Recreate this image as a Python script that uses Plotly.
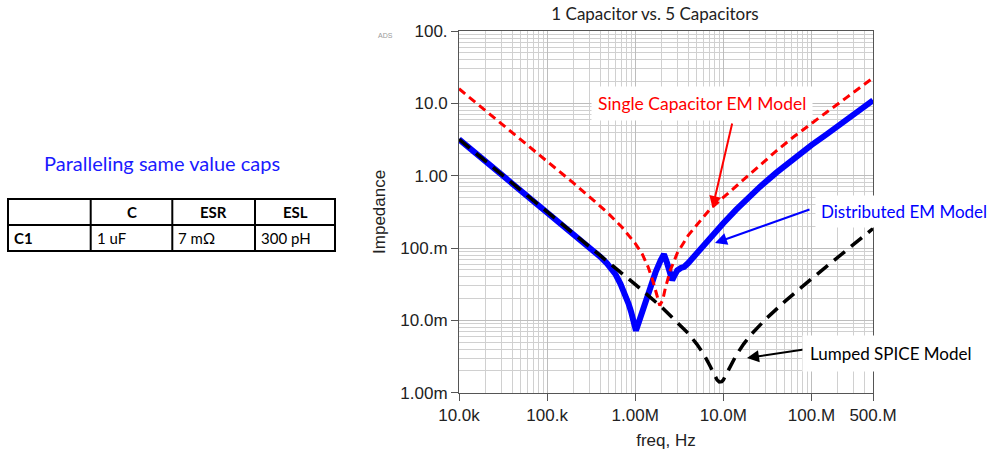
import math
import plotly.graph_objects as go

W, H = 992, 450

# ---------------- data ----------------
freq_single = [1e4, 2e4, 5e4, 1e5, 2e5, 3.5e5, 5e5, 7e5, 1e6, 1.2e6, 1.4e6, 1.6e6, 1.75e6,
               1.9e6, 2.05e6, 2.2e6, 2.5e6, 3e6, 4e6, 5e6, 7e6, 1e7, 1.5e7, 2.5e7, 4e7,
               6.3e7, 1e8, 1.5e8, 2.5e8, 3.5e8, 5e8]
z_single = [15.9, 7.95, 3.18, 1.59, 0.787, 0.439, 0.297, 0.197, 0.116, 0.083, 0.055, 0.034,
            0.022, 0.016, 0.019, 0.028, 0.049, 0.085, 0.15, 0.21, 0.34, 0.50, 0.77, 1.33, 2.2,
            3.45, 5.3, 7.6, 12.0, 16.4, 22.5]

freq_distributed = [1e4, 2e4, 5e4, 1e5, 2e5, 3e5, 3.5e5, 4e5, 4.8e5, 5.5e5, 6e5, 6.8e5, 7.5e5,
                    8.4e5, 9e5, 9.5e5, 9.8e5, 1.02e6, 1.1e6, 1.25e6, 1.45e6, 1.7e6, 1.95e6,
                    2.12e6, 2.3e6, 2.5e6, 2.63e6, 2.8e6, 3e6, 3.3e6, 3.6e6, 4e6, 4.6e6, 5.5e6,
                    6.5e6, 7.7e6, 1e7, 1.4e7, 2e7, 2.6e7, 4e7, 6.3e7, 1e8, 1.5e8, 2.5e8,
                    3.5e8, 5e8]
z_distributed = [3.18, 1.59, 0.636, 0.318, 0.158, 0.103, 0.088, 0.076, 0.061, 0.050, 0.043,
                 0.032, 0.025, 0.017, 0.013, 0.010, 0.0085, 0.0072, 0.0095, 0.0155, 0.026,
                 0.046, 0.068, 0.082, 0.062, 0.043, 0.036, 0.042, 0.049, 0.053, 0.055, 0.062,
                 0.076, 0.097, 0.122, 0.156, 0.22, 0.34, 0.52, 0.70, 1.10, 1.73, 2.65, 3.75,
                 5.9, 8.0, 11.0]

freq_lumped = [1e4, 2e4, 5e4, 1e5, 2e5, 5e5, 1e6, 2e6, 3e6, 4e6, 5e6, 6e6, 7e6, 8e6, 8.5e6,
               9e6, 9.3e6, 9.6e6, 1e7, 1.1e7, 1.2e7, 1.4e7, 1.7e7, 2e7, 3e7, 5e7, 1e8, 2e8, 5e8]
z_lumped = [3.18, 1.59, 0.637, 0.318, 0.159, 0.0635, 0.0315, 0.0152, 0.0095, 0.0066, 0.0047,
            0.0034, 0.0024, 0.0017, 0.0015, 0.00141, 0.0014, 0.00142, 0.0015, 0.0019, 0.0023,
            0.0033, 0.0047, 0.0061, 0.0103, 0.0183, 0.0374, 0.0752, 0.186]

x_tickvals = [1e4, 1e5, 1e6, 1e7, 1e8, 5e8]
x_ticktext = ["10.0k", "100.k", "1.00M", "10.0M", "100.M", "500.M"]
y_tickvals = [1e-3, 1e-2, 1e-1, 1, 10, 100]
y_ticktext = ["1.00m", "10.0m", "100.m", "1.00", "10.0", "100."]

table_header = ["", "C", "ESR", "ESL"]
table_row = ["C1", "1 uF", "7 mΩ", "300 pH"]

chart_title = "1 Capacitor vs. 5 Capacitors"
side_title = "Paralleling same value caps"
label_single = "Single Capacitor EM Model"
label_distributed = "Distributed EM Model"
label_lumped = "Lumped SPICE Model"

# ---------------- helpers: pixel -> paper (margins are zero) ----------------
def px(x):
    return x / W


def py(y):
    return 1 - y / H


PPT_FONT = "Lato"
ADS_FONT = "Liberation Sans"

fig = go.Figure()

fig.add_trace(go.Scatter(x=freq_distributed, y=z_distributed, mode="lines",
                         line=dict(color="#0000ff", width=6), name=label_distributed,
                         hoverinfo="skip"))
fig.add_trace(go.Scatter(x=freq_lumped, y=z_lumped, mode="lines",
                         line=dict(color="#000000", width=3.5, dash="14px,8px"),
                         name=label_lumped, hoverinfo="skip"))
fig.add_trace(go.Scatter(x=freq_single, y=z_single, mode="lines",
                         line=dict(color="#ff0000", width=3, dash="8px,5px"),
                         name=label_single, hoverinfo="skip"))

axis_common = dict(
    type="log",
    showline=True, linecolor="#555555", linewidth=1, mirror=True,
    ticks="outside", ticklen=7, tickcolor="#555555",
    showgrid=True, gridcolor="#bdbdbd", gridwidth=1,
    zeroline=False, automargin=False,
    tickfont=dict(family=ADS_FONT, size=17, color="#222222"),
    minor=dict(dtick="D1", showgrid=True, gridcolor="#d0d0d0", ticks=""),
)

fig.update_layout(
    width=W, height=H,
    margin=dict(l=0, r=0, t=0, b=0),
    paper_bgcolor="white", plot_bgcolor="white",
    showlegend=False,
    font=dict(family=ADS_FONT, color="#222222"),
    title=dict(text=chart_title, x=px(655), y=py(14), xanchor="center", yanchor="middle",
               font=dict(family=PPT_FONT, size=17, color="#222222")),
    xaxis=dict(axis_common, domain=[px(459), px(873)],
               range=[4, math.log10(5e8)],
               tickmode="array", tickvals=x_tickvals, ticktext=x_ticktext,
               title=dict(text="freq, Hz", standoff=14,
                          font=dict(family=ADS_FONT, size=17, color="#222222"))),
    yaxis=dict(axis_common, domain=[py(392.7), py(31)],
               range=[-3, 2],
               tickmode="array", tickvals=y_tickvals, ticktext=y_ticktext,
               title=dict(text="Impedance", standoff=10,
                          font=dict(family=ADS_FONT, size=17, color="#222222"))),
)

# ---------------- table (lines as shapes, texts as annotations) ----------------
tbl_left, tbl_right, tbl_top, tbl_mid, tbl_bottom = 8, 335, 199, 225, 251
col_edges = [8, 90.7, 172.3, 255, 335]
shapes = [dict(type="rect", xref="paper", yref="paper",
               x0=px(tbl_left), x1=px(tbl_right), y0=py(tbl_bottom), y1=py(tbl_top),
               line=dict(color="black", width=2), fillcolor="white", layer="below")]
shapes.append(dict(type="line", xref="paper", yref="paper",
                   x0=px(tbl_left), x1=px(tbl_right), y0=py(tbl_mid), y1=py(tbl_mid),
                   line=dict(color="black", width=2)))
for cx in col_edges[1:-1]:
    shapes.append(dict(type="line", xref="paper", yref="paper",
                       x0=px(cx), x1=px(cx), y0=py(tbl_bottom), y1=py(tbl_top),
                       line=dict(color="black", width=2)))

annotations = []
tbl_font = dict(family=PPT_FONT, size=15, color="black")
for i, txt in enumerate(table_header):
    if not txt:
        continue
    cx = (col_edges[i] + col_edges[i + 1]) / 2
    annotations.append(dict(text="<b>%s</b>" % txt, x=px(cx), y=py(212), xref="paper",
                            yref="paper", xanchor="center", yanchor="middle",
                            showarrow=False, font=tbl_font))
for i, txt in enumerate(table_row):
    t = "<b>%s</b>" % txt if i == 0 else txt
    annotations.append(dict(text=t, x=px(col_edges[i] + 4), y=py(238), xref="paper",
                            yref="paper", xanchor="left", yanchor="middle",
                            showarrow=False, font=tbl_font))

# small ADS tag
annotations.append(dict(text="ADS", x=px(385), y=py(36), xref="paper", yref="paper",
                        xanchor="center", yanchor="middle",
                        showarrow=False, font=dict(family=ADS_FONT, size=7, color="#9a9a9a")))
# side text
annotations.append(dict(text=side_title, x=px(162), y=py(163), xref="paper", yref="paper",
                        xanchor="center", yanchor="middle",
                        showarrow=False, font=dict(family=PPT_FONT, size=20, color="#1a1aff")))


# arrows (tip, tail in pixels)
def arrow(tip, tail, color):
    return dict(text="", x=px(tip[0]), y=py(tip[1]), xref="paper", yref="paper",
                ax=tail[0] - tip[0], ay=tail[1] - tip[1], axref="pixel", ayref="pixel",
                showarrow=True, arrowhead=2, arrowsize=1.2, arrowwidth=2, arrowcolor=color)


annotations.append(arrow((712.5, 208), (732.5, 122), "#ff0000"))
annotations.append(arrow((715, 243), (811, 209), "#0000ff"))
annotations.append(arrow((747, 358), (807, 349), "#000000"))

annotations.append(dict(text=label_single, x=px(702), y=py(104), xref="paper", yref="paper",
                        xanchor="center", yanchor="middle",
                        showarrow=False, bgcolor="white", borderpad=6,
                        font=dict(family=PPT_FONT, size=17.5, color="#ff0000")))
annotations.append(dict(text=label_distributed, x=px(904), y=py(212), xref="paper", yref="paper",
                        xanchor="center", yanchor="middle",
                        showarrow=False, bgcolor="white", borderpad=5,
                        font=dict(family=PPT_FONT, size=17, color="#0000ff")))
annotations.append(dict(text=label_lumped, x=px(890), y=py(353), xref="paper", yref="paper",
                        xanchor="center", yanchor="middle",
                        showarrow=False, bgcolor="white", borderpad=7,
                        font=dict(family=PPT_FONT, size=17, color="#000000")))

fig.update_layout(annotations=annotations, shapes=shapes)

fig.write_html("out.html", config={"displayModeBar": False},
               post_script="document.body.style.margin='0';")
